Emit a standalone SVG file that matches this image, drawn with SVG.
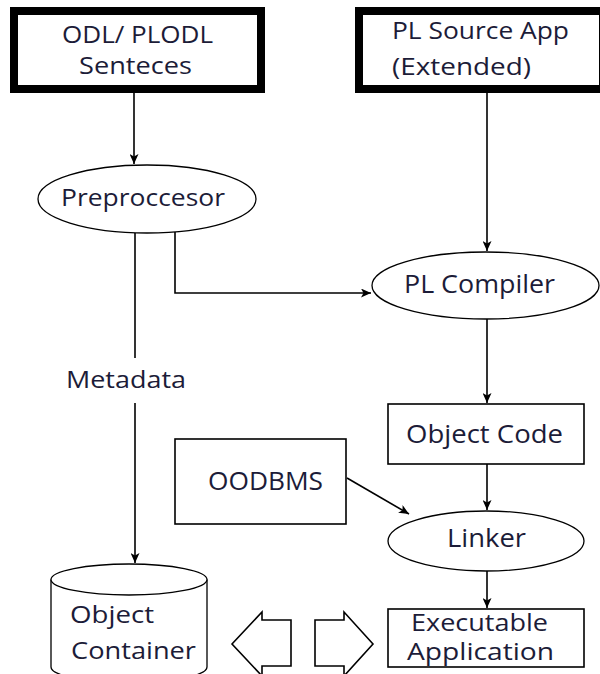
<svg xmlns="http://www.w3.org/2000/svg" width="600" height="674" viewBox="0 0 600 674">
  <style>
    .lbl { font-family: "Open Sans", "Noto Sans", "DejaVu Sans", sans-serif; fill: #1c1c38; }
    .thick { fill: #ffffff; stroke: #000000; stroke-width: 8; }
    .box { fill: #ffffff; stroke: #000000; stroke-width: 1.6; }
    .oval { fill: #ffffff; stroke: #000000; stroke-width: 1.3; }
    .conn { fill: none; stroke: #000000; stroke-width: 1.6; }
    .conn-end { fill: none; stroke: #000000; stroke-width: 1.6; marker-end: url(#ah); }
  </style>
  <defs>
    <marker id="ah" markerWidth="10" markerHeight="9" refX="10" refY="4.5" orient="auto" markerUnits="userSpaceOnUse">
      <path d="M0,0 L10,4.5 L0,9 L2.5,4.5 z" fill="#000000"/>
    </marker>
  </defs>
  <rect width="600" height="674" fill="#ffffff"/>

  <!-- connectors -->
  <g id="connectors">
    <path class="conn-end" d="M134,93 V164"/>
    <path class="conn-end" d="M487,93 V251"/>
    <path class="conn-end" d="M175,232 V293 H371"/>
    <path class="conn" d="M135,233 V358"/>
    <path class="conn-end" d="M135,403 V563"/>
    <path class="conn-end" d="M487,319 V403"/>
    <path class="conn-end" d="M487,464 V510"/>
    <path class="conn-end" d="M347,478 L409,514"/>
    <path class="conn-end" d="M487,571 V608"/>
  </g>

  <g id="odl-sentences">
    <rect class="thick" x="14" y="11" width="247" height="78"/>
    <text class="lbl" x="62" y="43" font-size="24" textLength="151" lengthAdjust="spacingAndGlyphs">ODL/ PLODL</text>
    <text class="lbl" x="79" y="74" font-size="24" textLength="113" lengthAdjust="spacingAndGlyphs">Senteces</text>
  </g>

  <g id="pl-source-app">
    <rect class="thick" x="359" y="11" width="244" height="78"/>
    <text class="lbl" x="392" y="39" font-size="24" textLength="177" lengthAdjust="spacingAndGlyphs">PL Source App</text>
    <text class="lbl" x="392" y="75" font-size="24" textLength="139" lengthAdjust="spacingAndGlyphs">(Extended)</text>
  </g>

  <g id="preprocessor">
    <ellipse class="oval" cx="147" cy="199" rx="109" ry="34"/>
    <text class="lbl" x="61" y="206" font-size="23.5" textLength="164" lengthAdjust="spacingAndGlyphs">Preproccesor</text>
  </g>

  <g id="pl-compiler">
    <ellipse class="oval" cx="485.5" cy="285.5" rx="113.5" ry="33.5"/>
    <text class="lbl" x="404" y="293" font-size="26" textLength="151" lengthAdjust="spacingAndGlyphs">PL Compiler</text>
  </g>

  <g id="metadata">
    <text class="lbl" x="66" y="388" font-size="23" textLength="120" lengthAdjust="spacingAndGlyphs">Metadata</text>
  </g>

  <g id="object-code">
    <rect class="box" x="388" y="404" width="196" height="60"/>
    <text class="lbl" x="406" y="443" font-size="26" textLength="157" lengthAdjust="spacingAndGlyphs">Object Code</text>
  </g>

  <g id="oodbms">
    <rect class="box" x="175" y="439" width="171" height="85"/>
    <text class="lbl" x="208" y="490" font-size="25" textLength="115" lengthAdjust="spacingAndGlyphs">OODBMS</text>
  </g>

  <g id="linker">
    <ellipse class="oval" cx="486" cy="541" rx="98" ry="30"/>
    <text class="lbl" x="447" y="547" font-size="25" textLength="79" lengthAdjust="spacingAndGlyphs">Linker</text>
  </g>

  <g id="object-container">
    <path class="oval" d="M51,579.5 V667 A78,15.5 0 0 0 207,667 V579.5"/>
    <ellipse class="oval" cx="129" cy="579.5" rx="78" ry="15.5"/>
    <text class="lbl" x="70" y="623" font-size="24" textLength="84" lengthAdjust="spacingAndGlyphs">Object</text>
    <text class="lbl" x="71" y="659" font-size="24" textLength="125" lengthAdjust="spacingAndGlyphs">Container</text>
  </g>

  <g id="exchange-arrows">
    <polygon class="box" points="232,644 262,612 262,620 291,620 291,666 262,666 262,676"/>
    <polygon class="box" points="373,644 344,612 344,620 315,620 315,666 344,666 344,676"/>
  </g>

  <g id="executable-application">
    <rect class="box" x="388" y="609" width="196" height="58"/>
    <text class="lbl" x="411" y="631" font-size="23" textLength="137" lengthAdjust="spacingAndGlyphs">Executable</text>
    <text class="lbl" x="407" y="660" font-size="23" textLength="147" lengthAdjust="spacingAndGlyphs">Application</text>
  </g>
</svg>
